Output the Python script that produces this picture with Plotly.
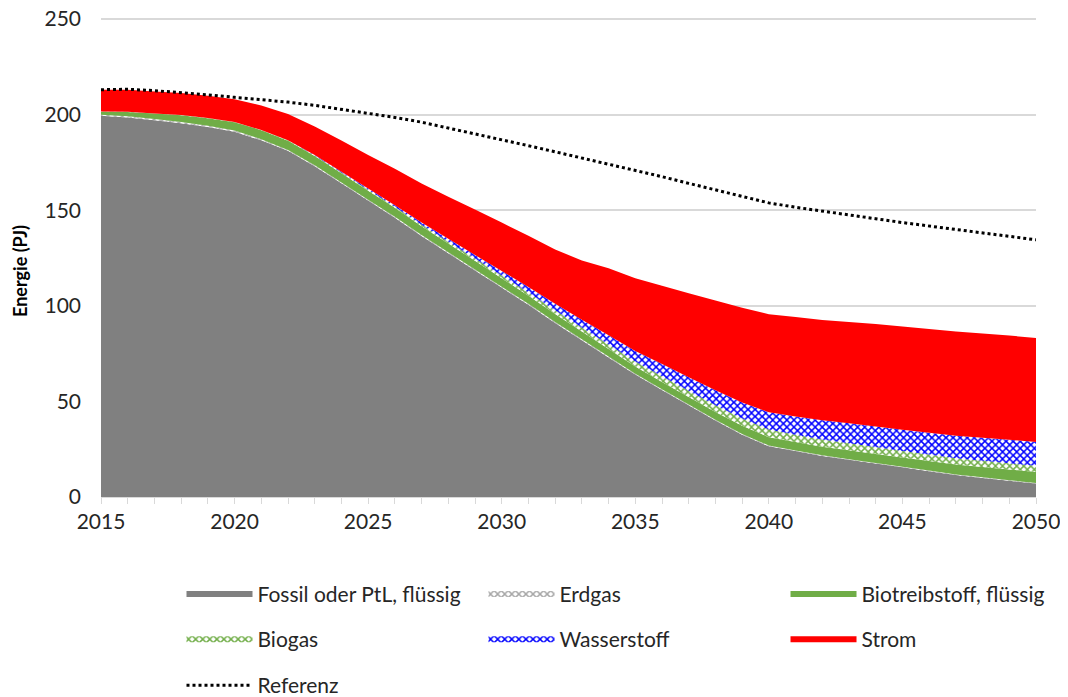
import plotly.graph_objects as go

years = list(range(2015, 2051))

fossil = [199.3, 198.5, 197.0, 195.5, 193.5, 191.0, 186.5, 181.0, 173.0, 164.0,
          155.0, 146.0, 136.5, 127.5, 118.5, 109.5, 100.5, 91.0, 82.0, 73.0,
          64.0, 56.0, 48.0, 40.0, 32.5, 26.5, 24.0, 21.5, 19.5, 17.5,
          15.5, 13.5, 11.5, 10.0, 8.5, 7.0]
erdgas = [0.6, 0.6, 0.6, 0.6, 0.6, 0.6, 0.6, 0.5, 0.5, 0.5,
          0.5, 0.5, 0.5, 0.5, 0.5, 0.5, 0.5, 0.5, 0.5, 0.5,
          0.4, 0.4, 0.4, 0.4, 0.4, 0.4, 0.3, 0.3, 0.3, 0.3,
          0.3, 0.3, 0.3, 0.3, 0.3, 0.3]
biotreib = [1.6, 2.2, 2.9, 3.5, 4.0, 4.4, 4.7, 4.8, 4.8, 4.8,
            4.7, 4.7, 4.6, 4.5, 4.5, 4.4, 4.3, 4.2, 4.0, 3.9,
            3.8, 3.8, 3.9, 4.1, 4.3, 4.4, 4.4, 4.5, 4.6, 4.7,
            4.8, 5.0, 5.2, 5.4, 5.6, 5.8]
biogas = [0.1, 0.1, 0.1, 0.1, 0.1, 0.1, 0.1, 0.2, 0.3, 0.4,
          0.5, 0.6, 0.8, 1.0, 1.2, 1.4, 1.6, 1.9, 2.1, 2.4,
          2.6, 2.9, 3.2, 3.5, 3.8, 4.0, 3.9, 3.8, 3.7, 3.6,
          3.5, 3.4, 3.3, 3.3, 3.2, 3.2]
wasserstoff = [0.0, 0.0, 0.0, 0.0, 0.0, 0.0, 0.0, 0.0, 0.2, 0.4,
               0.6, 0.8, 1.1, 1.5, 1.9, 2.4, 2.9, 3.5, 4.1, 4.8,
               5.6, 6.4, 7.1, 7.8, 8.4, 9.0, 9.5, 10.0, 10.4, 10.8,
               11.1, 11.4, 11.7, 12.0, 12.3, 12.5]
strom = [11.4, 11.5, 11.5, 11.5, 11.6, 11.9, 12.8, 13.8, 15.0, 16.3,
         17.6, 19.0, 20.4, 22.0, 23.8, 25.3, 26.8, 28.3, 31.0, 35.0,
         38.0, 41.0, 44.0, 47.0, 49.5, 51.3, 52.0, 52.5, 53.0, 53.5,
         54.0, 54.3, 54.5, 54.5, 54.5, 54.4]
referenz = [213.0, 213.2, 212.5, 211.5, 210.3, 209.0, 207.8, 206.5, 204.8, 202.8,
            200.5, 198.5, 196.0, 193.0, 190.0, 186.8, 183.7, 180.5, 177.3, 174.0,
            170.8, 167.5, 164.0, 160.6, 157.0, 153.8, 151.5, 149.6, 147.5, 145.5,
            143.5, 141.7, 140.0, 138.3, 136.5, 134.5]
y_ticks = [0, 50, 100, 150, 200, 250]
x_ticks = [2015, 2020, 2025, 2030, 2035, 2040, 2045, 2050]

FONT = "Lato"
TXT = "#262626"
FS = 21
fig = go.Figure()

def area(name, y, color, legend, pattern=None):
    kw = dict(x=years, y=y, name=name, mode="none", stackgroup="one",
              fillcolor=color, legend=legend)
    if pattern:
        kw["fillcolor"] = "white"
        kw["fillpattern"] = dict(shape="x", fgcolor=pattern, bgcolor="white",
                                 size=5, solidity=0.5, fillmode="replace")
    fig.add_trace(go.Scatter(**kw))

area("Fossil oder PtL, flüssig", fossil, "#808080", "legend")
area("Erdgas", erdgas, "white", "legend2", pattern="#a6a6a6")
area("Biotreibstoff, flüssig", biotreib, "#70ad47", "legend3")
area("Biogas", biogas, "white", "legend4", pattern="#70ad47")
area("Wasserstoff", wasserstoff, "white", "legend5", pattern="#0000ff")
area("Strom", strom, "#ff0000", "legend6")

fig.add_trace(go.Scatter(x=years, y=referenz, name="Referenz", mode="lines",
                         line=dict(color="black", width=3, dash="dot"),
                         legend="legend7"))

def leg(x, y):
    return dict(orientation="h", xanchor="left", yanchor="middle", x=x, y=y,
                font=dict(family=FONT, size=FS, color=TXT),
                bgcolor="rgba(0,0,0,0)", itemwidth=66)

cols = [0.0861, 0.4091, 0.7321]
rows = [-0.203, -0.297, -0.393]

fig.update_layout(
    width=1060, height=689,
    margin=dict(l=93, r=32, t=9, b=200, autoexpand=False),
    paper_bgcolor="white", plot_bgcolor="white",
    font=dict(family=FONT, size=FS, color=TXT),
    showlegend=True,
    legend=leg(cols[0], rows[0]),
    legend2=leg(cols[1], rows[0]),
    legend3=leg(cols[2], rows[0]),
    legend4=leg(cols[0], rows[1]),
    legend5=leg(cols[1], rows[1]),
    legend6=leg(cols[2], rows[1]),
    legend7=leg(cols[0], rows[2]),
    xaxis=dict(range=[2015, 2050], tickmode="array", tickvals=x_ticks,
               ticks="outside", ticklen=6, tickcolor="#d9d9d9",
               showline=True, linecolor="#d9d9d9", linewidth=1,
               showgrid=False, zeroline=False,
               minor=dict(dtick=1, tick0=2015, ticks="outside", ticklen=6,
                          tickcolor="#d9d9d9", showgrid=False),
               tickfont=dict(family=FONT, size=FS, color=TXT)),
    yaxis=dict(range=[0, 251], tickmode="array", tickvals=y_ticks,
               showgrid=True, gridcolor="#d9d9d9",
               gridwidth=1.5, zeroline=False, showline=False, ticks="",
               ticklabelstandoff=19, ticklabeloverflow="allow",
               tickfont=dict(family=FONT, size=FS, color=TXT)),
    annotations=[dict(text="<b>Energie (PJ)</b>", textangle=-90,
                      xref="paper", yref="paper", x=-0.0866, y=0.471,
                      xanchor="center", yanchor="middle", showarrow=False,
                      font=dict(family=FONT, size=18, color="#000000"))],
)

fig.write_html("out.html")
